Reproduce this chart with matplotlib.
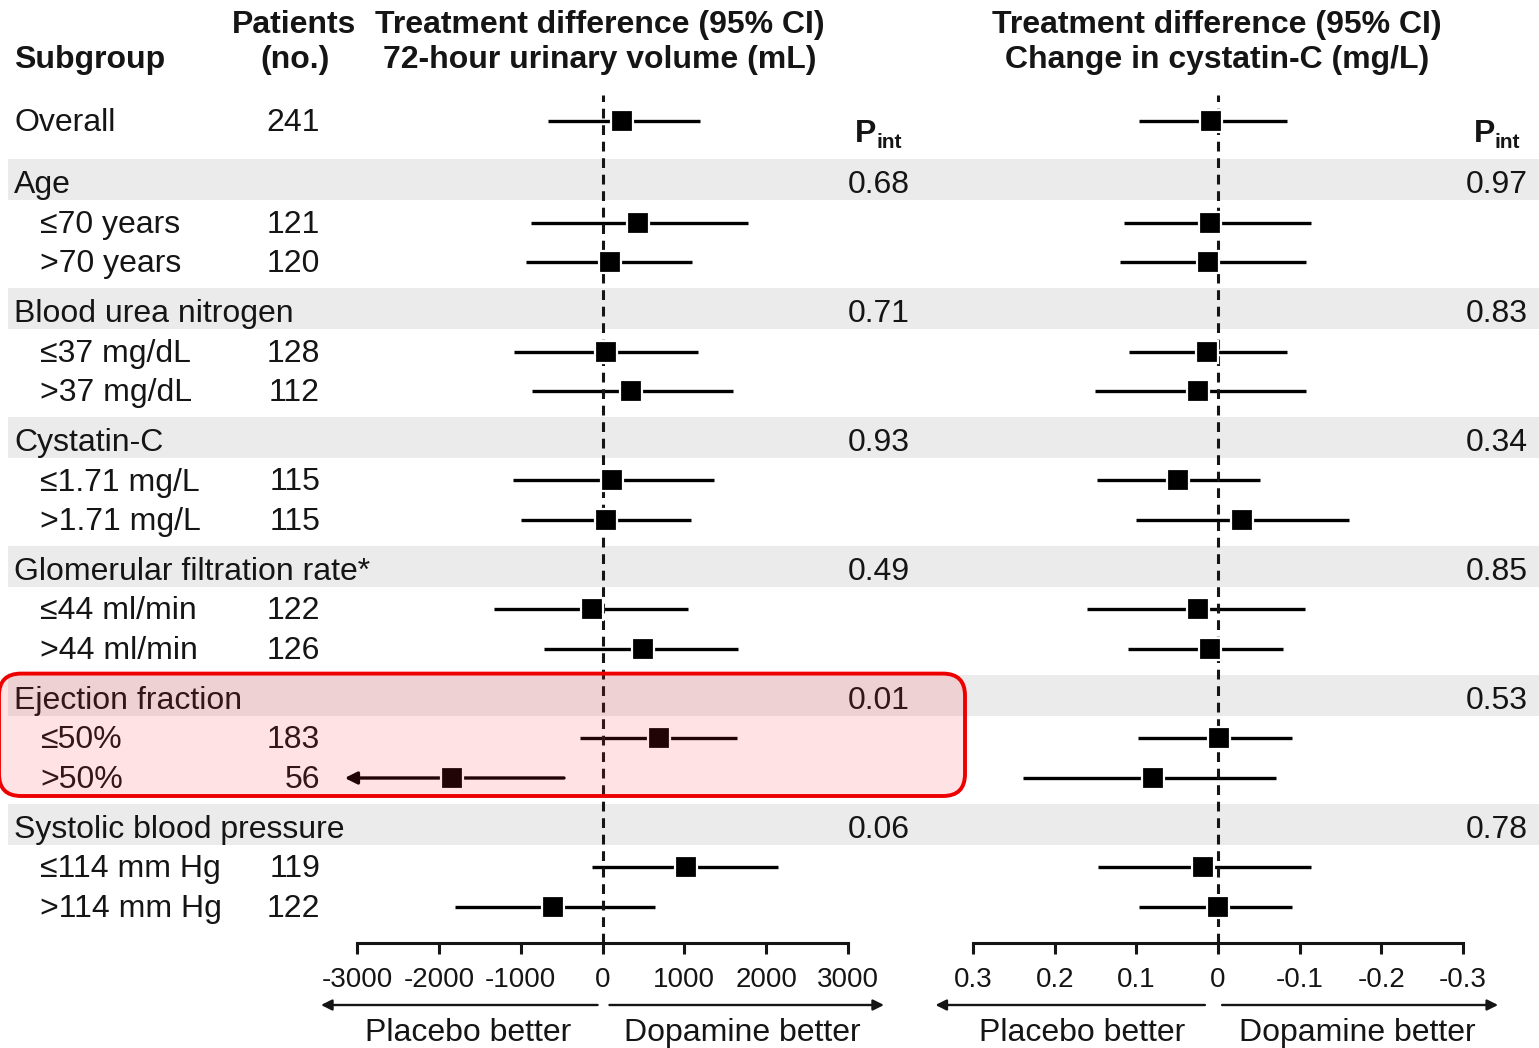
import matplotlib
matplotlib.use('Agg')
import matplotlib.pyplot as plt
from matplotlib.patches import FancyBboxPatch, Rectangle

plt.rcParams['font.family'] = ['Liberation Sans', 'DejaVu Sans']

# ---------------- data ----------------
row_labels = ['Overall', 'Age', '≤70 years', '>70 years',
              'Blood urea nitrogen', '≤37 mg/dL', '>37 mg/dL',
              'Cystatin-C', '≤1.71 mg/L', '>1.71 mg/L',
              'Glomerular filtration rate*', '≤44 ml/min', '>44 ml/min',
              'Ejection fraction', '≤50%', '>50%',
              'Systolic blood pressure', '≤114 mm Hg', '>114 mm Hg']
row_kind = ['overall', 'group', 'sub', 'sub',
            'group', 'sub', 'sub',
            'group', 'sub', 'sub',
            'group', 'sub', 'sub',
            'group', 'sub', 'sub',
            'group', 'sub', 'sub']
patients = [241, None, 121, 120, None, 128, 112, None, 115, 115,
            None, 122, 126, None, 183, 56, None, 119, 122]

# 72-hour urinary volume (mL): estimate, lower, upper
urine_est = [240, None, 430, 90, None, 40, 345, None, 115, 40,
             None, -130, 490, None, 690, -1845, None, 1020, -600]
urine_lo = [-670, None, -870, -935, None, -1085, -865, None, -1095, -1000,
            None, -1325, -715, None, -280, -3150, None, -130, -1800]
urine_hi = [1190, None, 1780, 1090, None, 1170, 1600, None, 1365, 1085,
            None, 1050, 1660, None, 1645, -470, None, 2150, 640]
urine_p = [None, '0.68', None, None, '0.71', None, None, '0.93', None, None,
           '0.49', None, None, '0.01', None, None, '0.06', None, None]

# Change in cystatin-C (mg/L): estimate, lower, upper
cyst_est = [0.009, None, 0.010, 0.012, None, 0.014, 0.024, None, 0.049, -0.029,
            None, 0.024, 0.010, None, -0.001, 0.080, None, 0.018, 0.000]
cyst_lo = [-0.084, None, -0.114, -0.108, None, -0.085, -0.108, None, -0.051, -0.160,
           None, -0.107, -0.079, None, -0.091, -0.071, None, -0.114, -0.090]
cyst_hi = [0.097, None, 0.115, 0.120, None, 0.109, 0.151, None, 0.148, 0.101,
           None, 0.161, 0.110, None, 0.098, 0.239, None, 0.147, 0.097]
cyst_p = [None, '0.97', None, None, '0.83', None, None, '0.34', None, None,
          '0.85', None, None, '0.53', None, None, '0.78', None, None]

urine_ticks = [-3000, -2000, -1000, 0, 1000, 2000, 3000]
urine_ticklabels = ['-3000', '-2000', '-1000', '0', '1000', '2000', '3000']
cyst_ticks = [0.3, 0.2, 0.1, 0, -0.1, -0.2, -0.3]
cyst_ticklabels = ['0.3', '0.2', '0.1', '0', '-0.1', '-0.2', '-0.3']

# ---------------- layout ----------------
W, H = 1539, 1048
FS = 23
TFS = 20
TXT = '#151515'
fig = plt.figure(figsize=(W / 100, H / 100), dpi=100)

# row positions (pixel units, top-down)
ys = []
y = 121.0
for i, k in enumerate(row_kind):
    if i == 0:
        pass
    elif i == 1:
        y += 62
    elif k == 'group':
        y += 49.5
    else:
        y += 39.7
    ys.append(y)

bg = fig.add_axes([0, 0, 1, 1])
bg.set_xlim(0, W)
bg.set_ylim(H, 0)
bg.axis('off')

band_col = '#ebebeb'
for yy, k in zip(ys, row_kind):
    if k == 'group':
        bg.add_patch(Rectangle((8, yy - 24), W - 8, 41, facecolor=band_col,
                               edgecolor='none', zorder=0))

# header
hb = dict(fontsize=FS, fontweight='bold', color=TXT)
bg.text(14, 68, 'Subgroup', ha='left', va='baseline', **hb)
bg.text(294, 33, 'Patients', ha='center', va='baseline', **hb)
bg.text(295, 68, '(no.)', ha='center', va='baseline', **hb)
bg.text(600, 33, 'Treatment difference (95% CI)', ha='center', va='baseline', **hb)
bg.text(600, 68, '72-hour urinary volume (mL)', ha='center', va='baseline', **hb)
bg.text(1217, 33, 'Treatment difference (95% CI)', ha='center', va='baseline', **hb)
bg.text(1217, 68, 'Change in cystatin-C (mg/L)', ha='center', va='baseline', **hb)
for xp in (855, 1474):
    bg.text(xp, 142, 'P', ha='left', va='baseline', fontsize=FS, fontweight='bold', color=TXT)
    bg.text(xp + 21, 148, 'int', ha='left', va='baseline', fontsize=15, fontweight='bold', color=TXT)

for lab, k, n, pu, pc, yy in zip(row_labels, row_kind, patients, urine_p, cyst_p, ys):
    x = 40 if k == 'sub' else 14
    bg.text(x, yy + 10, lab, ha='left', va='baseline', fontsize=FS, color=TXT)
    if n is not None:
        bg.text(320, yy + 10, str(n), ha='right', va='baseline', fontsize=FS, color=TXT)
    if pu is not None:
        bg.text(910, yy + 10, pu, ha='right', va='baseline', fontsize=FS, color=TXT)
    if pc is not None:
        bg.text(1528, yy + 10, pc, ha='right', va='baseline', fontsize=FS, color=TXT)


def make_panel(x0, x1, xlim, ticks, ticklabels, est, lo, hi, arrows, texts):
    ax = fig.add_axes([x0 / W, (H - 943) / H, (x1 - x0) / W, (943 - 90) / H])
    ax.patch.set_alpha(0)
    ax.set_xlim(*xlim)
    ax.set_ylim(943, 90)
    for s in ('top', 'left', 'right'):
        ax.spines[s].set_visible(False)
    ax.spines['bottom'].set_linewidth(2.2)
    ax.spines['bottom'].set_color(TXT)
    ax.set_yticks([])
    ax.set_xticks(ticks)
    ax.set_xticklabels(ticklabels)
    ax.tick_params(axis='x', direction='out', length=8, width=2.2, labelsize=TFS,
                   pad=9, colors=TXT)
    ax.axvline(0, ymin=0, ymax=(943 - 95) / 853, color=TXT, lw=2.2,
               dashes=(3.2, 2.2), zorder=2.5)
    xmin = min(xlim)
    for e, l, h_, yy in zip(est, lo, hi, ys):
        if e is None:
            continue
        if l < xmin:
            ax.annotate('', xy=(l, yy), xytext=(h_, yy),
                        arrowprops=dict(arrowstyle='-|>', lw=2.4, color='black',
                                        mutation_scale=18, shrinkA=0, shrinkB=0),
                        annotation_clip=False, zorder=2)
        else:
            ax.plot([l, h_], [yy, yy], color='black', lw=2.4, solid_capstyle='butt', zorder=2)
        ax.plot([e], [yy], marker='s', ms=15.5, mfc='black', mec='white', mew=1.6,
                zorder=3, clip_on=False)
    for (xa, xb) in arrows:
        ax.annotate('', xy=(xb, 1005), xytext=(xa, 1005),
                    arrowprops=dict(arrowstyle='-|>', lw=1.7, color=TXT,
                                    mutation_scale=16, shrinkA=0, shrinkB=0),
                    annotation_clip=False)
    for (xt, t) in texts:
        ax.text(xt, 1041, t, ha='center', va='baseline', fontsize=FS, color=TXT,
                clip_on=False)
    return ax


ax1 = make_panel(357, 848, (-3000, 3000), urine_ticks, urine_ticklabels,
                 urine_est, urine_lo, urine_hi,
                 arrows=[(-60, -3440), (85, 3440)],
                 texts=[(-1640, 'Placebo better'), (1710, 'Dopamine better')])
ax2 = make_panel(973, 1463, (0.3, -0.3), cyst_ticks, cyst_ticklabels,
                 cyst_est, cyst_lo, cyst_hi,
                 arrows=[(0.016, 0.346), (-0.005, -0.343)],
                 texts=[(0.1665, 'Placebo better'), (-0.170, 'Dopamine better')])

# highlight overlay on the ejection fraction group
ov = fig.add_axes([0, 0, 1, 1])
ov.set_xlim(0, W)
ov.set_ylim(H, 0)
ov.axis('off')
i_ef = row_labels.index('Ejection fraction')
top = ys[i_ef] - 25
bot = ys[i_ef + 2] + 18
ov.add_patch(FancyBboxPatch((-1, top), 966, bot - top,
                            boxstyle='round,pad=0,rounding_size=22',
                            facecolor=(1.0, 0.15, 0.2, 0.13), edgecolor='#ee0000',
                            lw=2.8, zorder=10))

fig.savefig('out.png', dpi=100)
